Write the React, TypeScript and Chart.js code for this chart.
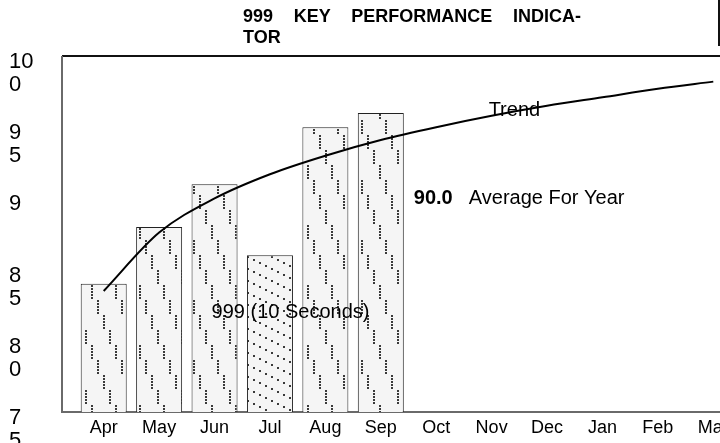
import { useEffect, useRef } from "react";
import { Chart, registerables } from "chart.js";

Chart.register(...registerables);

// ---- data ----
const months = ["Apr", "May", "Jun", "Jul", "Aug", "Sep", "Oct", "Nov", "Dec", "Jan", "Feb", "Mar"];
const kpiValues = [84, 88, 91, 86, 95, 96];
const trendValues = [83.5, 87.6, 90.0, 91.7, 93.0, 94.1, 95.0, 95.8, 96.5, 97.1, 97.7, 98.2];
const yTickValues = [75, 80, 85, 90, 95, 100];
const yTickLabels = [["7", "5"], ["8", "0"], ["8", "5"], ["9"], ["9", "5"], ["10", "0"]];
const titleWords = ["999", "KEY", "PERFORMANCE", "INDICA-"];
const titleLine2 = "TOR";
const seriesName = "999 (10 Seconds)";
const trendName = "Trend";
const averageText = "Average For Year";

const FONT = "'Liberation Sans', Arial, sans-serif";

function makeStairPattern(ctx: CanvasRenderingContext2D) {
  const c = document.createElement("canvas");
  c.width = 24;
  c.height = 60;
  const g = c.getContext("2d")!;
  g.fillStyle = "#f5f5f5";
  g.fillRect(0, 0, 24, 60);
  g.fillStyle = "#3a3a3a";
  for (let k = 0; k < 4; k++) {
    for (let j = 0; j < 5; j++) {
      g.fillRect(6 * k + 1, 15 * k + 3 * j, 2, 2);
    }
  }
  return ctx.createPattern(c, "repeat")!;
}

function makeDiagPattern(ctx: CanvasRenderingContext2D) {
  const c = document.createElement("canvas");
  c.width = 24;
  c.height = 12;
  const g = c.getContext("2d")!;
  g.fillStyle = "#f5f5f5";
  g.fillRect(0, 0, 24, 12);
  g.fillStyle = "#3a3a3a";
  for (let k = 0; k < 4; k++) {
    g.fillRect(6 * k + 1, 3 * k + 1, 2, 2);
  }
  return ctx.createPattern(c, "repeat")!;
}

export default function App() {
  const ref = useRef<HTMLCanvasElement | null>(null);

  useEffect(() => {
    const canvas = ref.current!;
    const ctx = canvas.getContext("2d")!;
    const stair = makeStairPattern(ctx);
    const diag = makeDiagPattern(ctx);
    const barFills = kpiValues.map((_, i) => (i === 3 ? diag : stair));
    const average = kpiValues.reduce((a, b) => a + b, 0) / kpiValues.length;

    const decor = {
      id: "decor",
      beforeDatasetsDraw(chart: any) {
        const c = chart.ctx;
        const ys = chart.scales.y;
        const area = chart.chartArea;
        c.save();
        // frame
        c.lineWidth = 2;
        c.strokeStyle = "#111";
        c.beginPath();
        c.moveTo(62, area.top);
        c.lineTo(chart.width, area.top);
        c.stroke();
        c.beginPath();
        c.moveTo(719, 0);
        c.lineTo(719, area.top - 10);
        c.stroke();
        c.strokeStyle = "#6a6a6a";
        c.beginPath();
        c.moveTo(62, area.top);
        c.lineTo(62, area.bottom);
        c.lineTo(chart.width, area.bottom);
        c.stroke();
        // y labels
        c.fillStyle = "#000";
        c.font = `22px ${FONT}`;
        c.textAlign = "left";
        c.textBaseline = "middle";
        yTickValues.forEach((v, i) => {
          const py = ys.getPixelForValue(v);
          yTickLabels[i].forEach((line, j) => {
            c.fillText(line, 9, py + 6 + j * 23);
          });
        });
        // title
        c.font = `bold 18px ${FONT}`;
        const x0 = 243;
        const x1 = 581;
        const widths = titleWords.map((w) => c.measureText(w).width);
        const total = widths.reduce((a, b) => a + b, 0);
        const gap = (x1 - x0 - total) / (titleWords.length - 1);
        let x = x0;
        titleWords.forEach((w, i) => {
          c.fillText(w, x, 17);
          x += widths[i] + gap;
        });
        c.fillText(titleLine2, x0, 38);
        c.restore();
      },
      afterDatasetsDraw(chart: any) {
        const c = chart.ctx;
        const xs = chart.scales.x;
        const ys = chart.scales.y;
        c.save();
        c.fillStyle = "#000";
        c.textAlign = "left";
        c.textBaseline = "middle";
        c.font = `20px ${FONT}`;
        c.fillText(trendName, xs.getPixelForValue(7) - 3, ys.getPixelForValue(trendValues[7]) - 5);
        c.fillText(seriesName, xs.getPixelForValue(2) - 3, ys.getPixelForValue(82));
        const ay = ys.getPixelForValue(average);
        c.font = `bold 20px ${FONT}`;
        const ax = xs.getPixelForValue(5) + 33;
        c.fillText(average.toFixed(1), ax, ay);
        c.font = `20px ${FONT}`;
        c.fillText(averageText, ax + 55, ay);
        c.restore();
      },
    };

    const chart = new Chart(canvas, {
      type: "bar",
      data: {
        labels: months,
        datasets: [
          {
            type: "line",
            label: trendName,
            data: trendValues,
            borderColor: "#000",
            borderWidth: 2,
            pointRadius: 0,
            tension: 0.4,
            cubicInterpolationMode: "monotone",
            fill: false,
            order: 0,
          } as any,
          {
            type: "bar",
            label: seriesName,
            data: kpiValues,
            backgroundColor: barFills as any,
            borderColor: "#222",
            borderWidth: 1,
            borderSkipped: false,
            barPercentage: 0.83,
            categoryPercentage: 1,
            order: 1,
          } as any,
        ],
      },
      options: {
        responsive: false,
        animation: false,
        layout: { padding: { left: 76, top: 56, right: 4, bottom: 0 } },
        plugins: { legend: { display: false }, title: { display: false }, tooltip: { enabled: false } },
        scales: {
          x: {
            offset: true,
            grid: { display: false, drawTicks: false },
            border: { display: false },
            ticks: { color: "#000", font: { size: 18, family: FONT }, padding: 5, maxRotation: 0, autoSkip: false },
            afterFit: (s: any) => {
              s.height = 31;
            },
          },
          y: { display: false, min: 75, max: 100 },
        },
      },
      plugins: [decor],
    });
    return () => chart.destroy();
  }, []);

  return (
    <div style={{ position: "fixed", left: 0, top: 0, width: 720, height: 443, overflow: "hidden", background: "#fff" }}>
      <canvas ref={ref} width={745} height={443} style={{ display: "block", width: 745, height: 443 }} />
    </div>
  );
}
